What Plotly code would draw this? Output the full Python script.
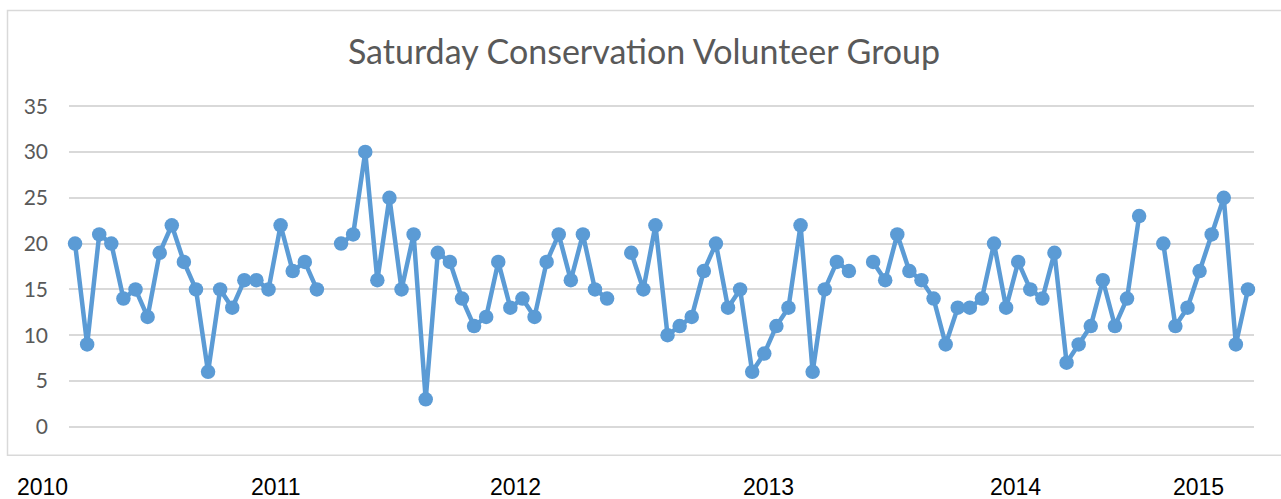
import plotly.graph_objects as go

# ---- data ----
title_text = "Saturday Conservation Volunteer Group"
volunteers = [
    20, 9, 21, 20, 14, 15, 12, 19, 22, 18, 15, 6, 15, 13, 16, 16, 15, 22, 17, 18, 15,
    None,
    20, 21, 30, 16, 25, 15, 21, 3, 19, 18, 14, 11, 12, 18, 13, 14, 12, 18, 21, 16, 21, 15, 14,
    None,
    19, 15, 22, 10, 11, 12, 17, 20, 13, 15, 6, 8, 11, 13, 22, 6, 15, 18, 17,
    None,
    18, 16, 21, 17, 16, 14, 9, 13, 13, 14, 20, 13, 18, 15, 14, 19, 7, 9, 11, 16, 11, 14, 23,
    None,
    20, 11, 13, 17, 21, 25, 9, 15,
]
sessions = list(range(1, len(volunteers) + 1))
year_labels = ["2010", "2011", "2012", "2013", "2014", "2015"]
y_ticks = [0, 5, 10, 15, 20, 25, 30, 35]

# ---- layout geometry (pixels) ----
W, H = 1281, 499
PL, PR = 69, 1254          # plot area left/right
Y0PX, Y35PX = 426.6, 105.7  # pixel rows of 0 and 35
ppu = (Y0PX - Y35PX) / 35
YMIN, YMAX = -1, 36
top_px = Y35PX - (YMAX - 35) * ppu
bot_px = Y0PX + (0 - YMIN) * ppu
pw, ph = PR - PL, bot_px - top_px
year_label_px = [42, 275, 515, 768, 1015, 1198]   # centres of the year texts below the chart

def px_to_paper_x(px):
    return (px - PL) / pw

def px_to_paper_y(py):
    return (bot_px - py) / ph

fig = go.Figure()
fig.add_trace(go.Scatter(
    x=sessions, y=volunteers, mode="lines+markers",
    line=dict(color="#5B9BD5", width=4.5),
    marker=dict(color="#5B9BD5", size=14.5),
    connectgaps=False, cliponaxis=False, showlegend=False,
))

for lab, px in zip(year_labels, year_label_px):
    fig.add_annotation(
        x=px_to_paper_x(px), xref="paper", y=px_to_paper_y(486.5), yref="paper",
        text=lab, showarrow=False, xanchor="center", yanchor="middle",
        font=dict(family="Liberation Sans, Arial", size=23, color="#000000"),
    )

fig.add_shape(
    type="rect", xref="paper", yref="paper",
    x0=px_to_paper_x(7.5), x1=px_to_paper_x(1290),
    y0=px_to_paper_y(455), y1=px_to_paper_y(10),
    line=dict(color="#D9D9D9", width=1.5), fillcolor="rgba(0,0,0,0)", layer="below",
)

fig.update_layout(
    width=W, height=H,
    margin=dict(l=PL, r=W - PR, t=top_px, b=H - bot_px, pad=0),
    paper_bgcolor="white", plot_bgcolor="white",
    title=dict(
        text=title_text, x=644 / W, xref="container", xanchor="center",
        y=1 - 52 / H, yref="container", yanchor="middle",
        font=dict(family="Lato, Open Sans, sans-serif", size=34, color="#595959"),
    ),
    xaxis=dict(range=[0.5, len(volunteers) + 0.5], showgrid=False, zeroline=False,
               showticklabels=False, showline=False, ticks=""),
    yaxis=dict(range=[YMIN, YMAX], tickvals=y_ticks, showgrid=True,
               gridcolor="#D9D9D9", gridwidth=1.5, zeroline=False,
               showline=False, ticks="", ticklabelstandoff=20,
               tickfont=dict(family="Lato, Open Sans, sans-serif", size=21, color="#595959")),
)

fig.write_html("out.html", config={"displayModeBar": False})

# remove the browser's default page margin so the figure sits at the top-left corner
with open("out.html", "r", encoding="utf-8") as f:
    html = f.read()
html = html.replace("<head>", "<head><style>html,body{margin:0;padding:0;overflow:hidden;}</style>", 1)
with open("out.html", "w", encoding="utf-8") as f:
    f.write(html)
